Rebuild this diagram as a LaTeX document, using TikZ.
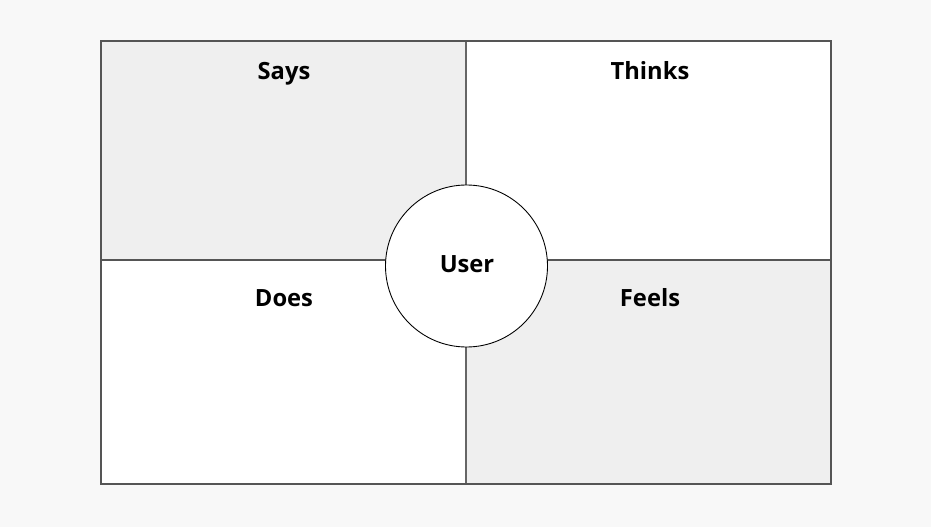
\documentclass[tikz,border=0pt]{standalone}
\usepackage{fontspec}
\setmainfont{Open Sans}
\definecolor{pagebg}{HTML}{F8F8F8}
\definecolor{quadgray}{HTML}{EFEFEF}
\definecolor{framegray}{HTML}{555555}
\tikzset{
  quadlabel/.style={font=\bfseries\fontsize{13.5}{16}\selectfont, text=black, inner sep=0pt, anchor=base},
}
\begin{document}
\begin{tikzpicture}[x=0.02cm,y=-0.02cm]
\fill [pagebg] (0,0) rectangle (931,527);
\useasboundingbox (0,0) rectangle (931,527);
\coordinate (NW) at (101,41);
\coordinate (NE) at (831,41);
\coordinate (SW) at (101,484);
\coordinate (SE) at (831,484);
\coordinate (N) at (466,41);
\coordinate (S) at (466,484);
\coordinate (W) at (101,260);
\coordinate (E) at (831,260);
\coordinate (C) at (466,260);
%
\fill [quadgray] (NW) rectangle (C);
\fill [white] (N) rectangle (E);
\fill [white] (W) rectangle (S);
\fill [quadgray] (C) rectangle (SE);
%
\draw [framegray, line width=0.6pt] (W) -- (E);
\draw [framegray!90, line width=1.2pt] (N) -- (S);
\draw [framegray, line width=0.7pt] (NW) rectangle (SE);
%
\node [circle, draw=black, line width=0.5pt, fill=white, minimum size=162*0.02cm, inner sep=0pt] (user) at (466.5,266) {};
\node [quadlabel] (userlbl) at (467,272.5) {User};
%
\node [quadlabel] (says) at (284,79.5) {Says};
\node [quadlabel] (thinks) at (650,79.5) {Thinks};
\node [quadlabel] (does) at (284,307) {Does};
\node [quadlabel] (feels) at (650,307) {Feels};
%
\end{tikzpicture}
\end{document}
